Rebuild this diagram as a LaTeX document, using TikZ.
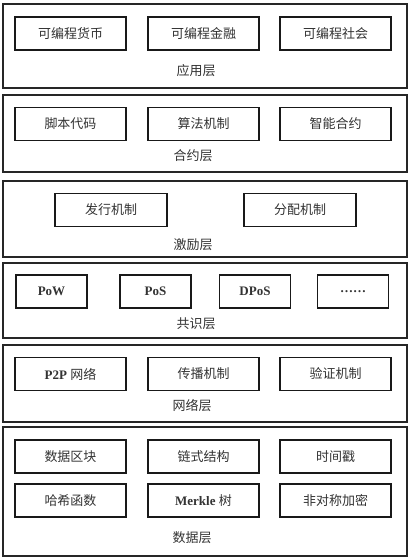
\documentclass[tikz,border=0pt]{standalone}
\usepackage{fontspec}
\setmainfont{Liberation Serif}
\newfontfamily\cjk{Noto Sans CJK SC}
\begin{document}
\begin{tikzpicture}[x=1pt,y=-1pt,
  layerbox/.style={draw=black!85, line width=1.4pt},
  ibox/.style={draw=black!90, line width=1.1pt, rectangle, inner sep=0pt,
    minimum width=111pt, minimum height=33pt, font=\fontsize{13}{15}\selectfont, text=black!80},
  sbox/.style={ibox, minimum width=71pt},
  mbox/.style={ibox, minimum width=112pt},
  lbl/.style={font=\fontsize{13}{15}\selectfont\cjk, text=black!80, inner sep=0pt}]
\useasboundingbox (0,0) rectangle (412,560);
\fill[white] (0,0) rectangle (412,560);
% layer frames
\draw[layerbox] (3,4) rectangle (407,88);
\draw[layerbox] (3,95) rectangle (407,172);
\draw[layerbox] (3,181) rectangle (407,257);
\draw[layerbox] (3,263) rectangle (407,338);
\draw[layerbox] (3,345) rectangle (407,422);
\draw[layerbox] (3,427) rectangle (407,556);
% application layer
\node[ibox] (a1) at (70.5,33.5) {\cjk 可编程货币};
\node[ibox] (a2) at (203.5,33.5) {\cjk 可编程金融};
\node[ibox] (a3) at (335.5,33.5) {\cjk 可编程社会};
\node[lbl] (la) at (196,71) {应用层};
% contract layer
\node[ibox] (c1) at (70.5,124) {\cjk 脚本代码};
\node[ibox] (c2) at (203.5,124) {\cjk 算法机制};
\node[ibox] (c3) at (335.5,124) {\cjk 智能合约};
\node[lbl] (lc) at (193,156) {合约层};
% incentive layer
\node[mbox] (i1) at (111,210) {\cjk 发行机制};
\node[mbox] (i2) at (300,210) {\cjk 分配机制};
\node[lbl] (li) at (193,245) {激励层};
% consensus layer
\node[sbox] (s1) at (51.5,291.5) {\textbf{PoW}};
\node[sbox] (s2) at (155.5,291.5) {\textbf{PoS}};
\node[sbox] (s3) at (255,291.5) {\textbf{DPoS}};
\node[sbox] (s4) at (353,291.5) {\textbf{……}};
\node[lbl] (ls) at (196,324) {共识层};
% network layer
\node[ibox] (n1) at (70.5,374) {\textbf{P2P} {\cjk 网络}};
\node[ibox] (n2) at (203.5,374) {\cjk 传播机制};
\node[ibox] (n3) at (335.5,374) {\cjk 验证机制};
\node[lbl] (ln) at (192,406) {网络层};
% data layer
\node[ibox] (d1) at (70.5,456.5) {\cjk 数据区块};
\node[ibox] (d2) at (203.5,456.5) {\cjk 链式结构};
\node[ibox] (d3) at (335.5,456.5) {\cjk 时间戳};
\node[ibox] (d4) at (70.5,500.5) {\cjk 哈希函数};
\node[ibox] (d5) at (203.5,500.5) {\textbf{Merkle} {\cjk 树}};
\node[ibox] (d6) at (335.5,500.5) {\cjk 非对称加密};
\node[lbl] (ld) at (192,538) {数据层};
\end{tikzpicture}
\end{document}
